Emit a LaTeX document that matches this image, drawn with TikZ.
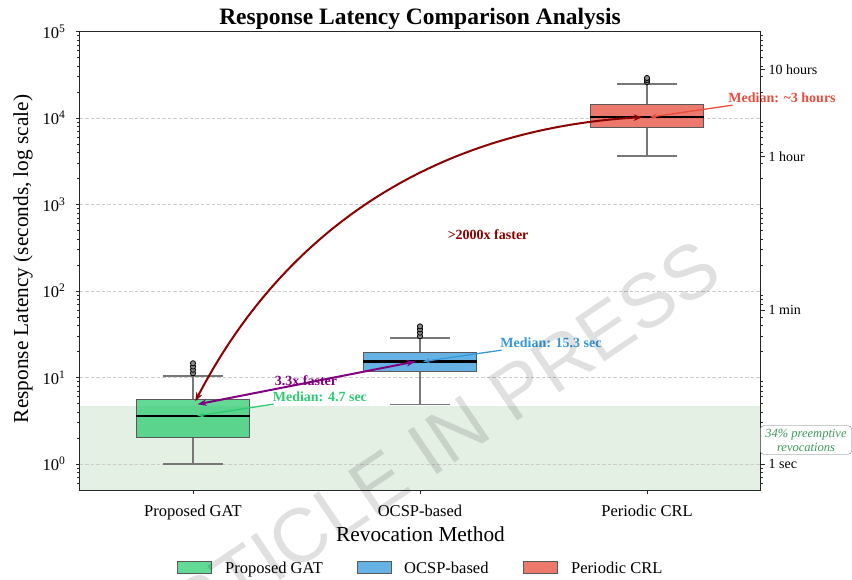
\documentclass[tikz,border=0pt]{standalone}
\usepackage{fontspec}
\setmainfont{Liberation Serif}
\newfontfamily\stampfont{Liberation Sans}
\usetikzlibrary{arrows.meta}
\definecolor{gatgreen}{HTML}{2ECC71}
\definecolor{ocspblue}{HTML}{3498DB}
\definecolor{crlred}{HTML}{E74C3C}
\definecolor{fastred}{HTML}{8B0000}
\definecolor{fastpurple}{HTML}{800080}
\definecolor{spangreen}{HTML}{E5F0E4}
\definecolor{notegreen}{HTML}{3D9A5C}
\definecolor{gridgray}{HTML}{CCCCCC}
\definecolor{whiskgray}{HTML}{777777}

\newcommand{\fs}[1]{\fontsize{#1}{#1}\selectfont}

% #1 position, #2 power of ten, #3-#7 low whisker, q1, median, q3, high whisker, #8 colour
\newcommand{\latbox}[8]{%
  \draw[whisker] (#1,{#2+log10(#3)}) -- (#1,{#2+log10(#4)});
  \draw[whisker] (#1,{#2+log10(#6)}) -- (#1,{#2+log10(#7)});
  \draw[whisker] (#1-0.13,{#2+log10(#3)}) -- (#1+0.13,{#2+log10(#3)});
  \draw[whisker] (#1-0.13,{#2+log10(#7)}) -- (#1+0.13,{#2+log10(#7)});
  \filldraw[boxbody, fill=#8] (#1-0.25,{#2+log10(#4)}) rectangle (#1+0.25,{#2+log10(#6)});
  \draw[median] (#1-0.25,{#2+log10(#5)}) -- (#1+0.25,{#2+log10(#5)});
}
\newcommand{\fliers}[3]{%
  \foreach \v in {#3} \draw[flier] (#1,{#2+log10(\v)}) circle[radius=2.6pt];
}

\begin{document}
\begin{tikzpicture}[
  x=1pt, y=1pt,
  spine/.style={draw=black!85, line width=0.9pt},
  gridline/.style={draw=gridgray, line width=0.7pt, dash pattern=on 3.5pt off 2pt},
  whisker/.style={draw=whiskgray, line width=1.4pt},
  boxbody/.style={draw=black!65, line width=0.9pt, fill opacity=0.75},
  median/.style={draw=black, line width=2.4pt},
  flier/.style={draw=black, fill=black!45, line width=0.8pt},
  tickmark/.style={draw=black!85, line width=0.8pt},
  ticklab/.style={font=\fs{16.5}, inner sep=0pt},
  rlab/.style={font=\fs{14}, inner sep=0pt},
  note/.style={font=\fs{14}\bfseries, inner sep=2pt},
  ptr/.style={-{Stealth[length=7pt, width=5pt]}, line width=1.3pt},
  speedup/.style={{Stealth[length=9pt, width=6.5pt]}-{Stealth[length=9pt, width=6.5pt]}, line width=2pt},
  legpatch/.style={draw=black!65, line width=0.8pt, fill opacity=0.75,
                   minimum width=34pt, minimum height=12pt, inner sep=0pt},
  notebox/.style={draw=black!55, rounded corners=3pt, fill=white, text=notegreen,
                  align=center, inner sep=3pt, font=\fontsize{12.5}{14}\selectfont\itshape},
]
\useasboundingbox (0,0) rectangle (852,579);

\begin{scope}[shift={(193pt,115pt)}, x=227pt, y=86.5pt]
  % band of preemptive revocations
  \fill[spangreen] (-0.5,{log10(0.5)}) rectangle (2.5,{log10(4.7)});
  % grid
  \foreach \k in {0,...,4} \draw[gridline] (-0.5,\k) -- (2.5,\k);

  % boxes
  \latbox{0}{0}{1}{2.05}{3.6}{5.6}{10.4}{gatgreen}
  \fliers{0}{0}{11.2,12.3,13.4,14.6}
  \latbox{1}{0}{4.9}{11.6}{15.3}{19.7}{28.6}{ocspblue}
  \fliers{1}{0}{30,33,36,39}
  \latbox{2}{3}{3.64}{7.87}{10.25}{14.5}{24.7}{crlred}
  \fliers{2}{3}{26,27.5,29}

  % points the arrows run to
  \coordinate (gatTop) at (0.01,{log10(5.3)});
  \coordinate (gatLow) at (0.02,{log10(4.9)});
  \coordinate (gatMed) at (0.018,{log10(3.6)});
  \coordinate (ocspMid) at (0.98,{log10(15.3)});
  \coordinate (ocspMed) at (1.013,{log10(15.3)});
  \coordinate (crlMid) at (1.98,4.01);
  \coordinate (crlMed) at (2.013,4.01);

  % speed-up arrows
  \draw[speedup, fastred] (gatTop) .. controls (0.40,2.70) and (1.06,3.87) .. (crlMid);
  \draw[speedup, fastpurple] (gatLow) -- (ocspMid);
  \node[note, text=fastred] (crlgain) at (1.3,2.647) {>2000x faster};
  \node[note, text=fastpurple] (ocspgain) at (0.498,0.96) {3.3x faster};

  % median labels
  \node[note, text=gatgreen] (gattxt) at (0.559,0.775) {Median: 4.7 sec};
  \node[note, text=ocspblue] (ocsptxt) at (1.577,1.399) {Median: 15.3 sec};
  \node[note, text=crlred] (crltxt) at (2.595,4.231) {Median: \textasciitilde3 hours};
  \draw[ptr, gatgreen] (gattxt) -- (gatMed);
  \draw[ptr, ocspblue] (ocsptxt) -- (ocspMed);
  \draw[ptr, crlred] (crltxt) -- (crlMed);

  % frame
  \draw[spine] (-0.5,{log10(0.5)}) rectangle (2.5,5);

  % left axis, seconds
  \foreach \k in {0,...,5}{
    \draw[tickmark] (-0.5,\k) -- ++(-4pt,0);
    \path (-0.5,\k) ++(-14pt,0) node[ticklab, anchor=east] (exp\k) {10\textsuperscript{\k}};
  }
  \foreach \k in {-1,...,4}{
    \foreach \m in {2,...,9}{
      \pgfmathsetmacro{\ly}{\k+log10(\m)}
      \pgfmathtruncatemacro{\inside}{\ly>-0.3}
      \ifnum\inside=1
        \draw[tickmark, line width=0.6pt] (-0.5,\ly) -- ++(-2.2pt,0);
        \draw[tickmark, line width=0.6pt] (2.5,\ly) -- ++(2.2pt,0);
      \fi
    }
  }

  % right axis, readable durations
  \foreach \ly/\lab [count=\i] in {0/1 sec, 1.77815/1 min, 3.55630/1 hour, 4.55630/10 hours}{
    \draw[tickmark] (2.5,\ly) -- ++(4pt,0);
    \path (2.5,\ly) ++(8pt,0) node[rlab, anchor=west] (dur\i) {\lab};
  }

  % categories
  \foreach \x/\lab [count=\i] in {0/Proposed GAT, 1/OCSP-based, 2/Periodic CRL}{
    \draw[tickmark] (\x,{log10(0.5)}) -- ++(0,-4pt);
    \path (\x,{log10(0.5)}) ++(0,-26.7pt) node[ticklab, anchor=base] (cat\i) {\lab};
  }
\end{scope}

% titles
\node[font=\fs{23.5}\bfseries, anchor=base] (title) at (420,554) {Response Latency Comparison Analysis};
\node[font=\fs{21.3}, rotate=90] (ylabel) at (23,320) {Response Latency (seconds, log scale)};
\node[font=\fs{21.3}, anchor=base] (xlabel) at (420.5,38) {Revocation Method};

% legend
\node[legpatch, fill=gatgreen] (leggat) at (194,12) {};
\node[ticklab, anchor=base west] (leggattxt) at (225,6) {Proposed GAT};
\node[legpatch, fill=ocspblue] (legocsp) at (374,12) {};
\node[ticklab, anchor=base west] (legocsptxt) at (404,6) {OCSP-based};
\node[legpatch, fill=crlred] (legcrl) at (540,12) {};
\node[ticklab, anchor=base west] (legcrltxt) at (571,6) {Periodic CRL};

% note on the band
\node[notebox, minimum width=91pt] (preempt) at (806,139) {34\% preemptive\\revocations};

% stamp
\node[font=\stampfont\fs{76}, text=black, text opacity=0.12, rotate=34] (stamp) at (423,126) {ARTICLE IN PRESS};
\end{tikzpicture}
\end{document}
